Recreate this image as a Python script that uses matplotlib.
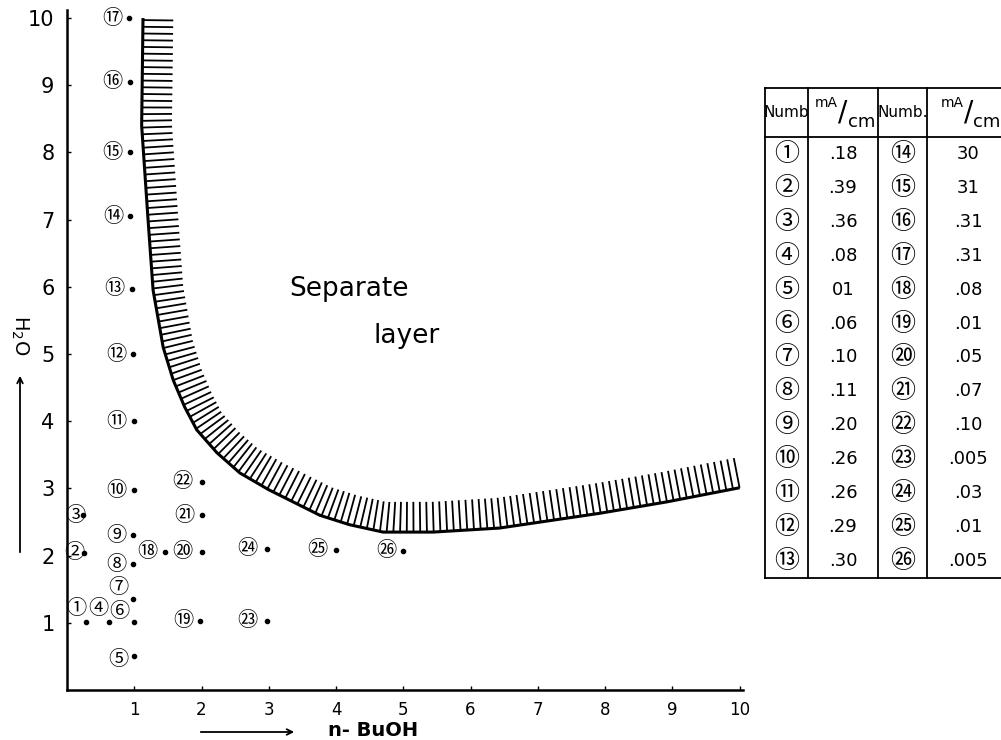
import numpy as np
import matplotlib
matplotlib.use('Agg')
import matplotlib.pyplot as plt
from matplotlib.collections import LineCollection

# sample points: n-BuOH (x) vs H2O (y)
sample_no = list(range(1, 27))
bu_oh = [0.28, 0.25, 0.24, 0.62, 1.00, 0.99, 0.98, 0.98, 0.98, 0.99,
         0.99, 0.98, 0.96, 0.94, 0.93, 0.93, 0.92, 1.45, 1.98, 2.00,
         2.00, 2.00, 2.98, 2.98, 4.00, 5.00]
h2o = [1.01, 2.04, 2.60, 1.01, 0.50, 1.01, 1.36, 1.87, 2.30, 2.97,
       4.00, 5.00, 5.97, 7.05, 8.00, 9.05, 10.0, 2.06, 1.03, 2.06,
       2.60, 3.10, 1.03, 2.10, 2.09, 2.07]
# current density (mA/cm), as written in the table
current = ['.18', '.39', '.36', '.08', '01', '.06', '.10', '.11', '.20', '.26',
           '.26', '.29', '.30', '30', '31', '.31', '.31', '.08', '.01', '.05',
           '.07', '.10', '.005', '.03', '.01', '.005']

# boundary of the separate layer region
edge_x = [1.13, 1.11, 1.20, 1.28, 1.43, 1.58, 1.75, 1.93, 2.23,
          2.57, 3.00, 3.46, 3.76, 4.20, 4.70, 5.44, 6.43, 7.92, 8.92, 10.0]
edge_y = [10.0, 8.40, 7.07, 5.95, 5.10, 4.61, 4.21, 3.87, 3.53,
          3.23, 2.98, 2.75, 2.60, 2.46, 2.35, 2.35, 2.41, 2.63, 2.80, 3.01]

xticks = list(range(1, 11))
yticks = list(range(1, 11))

# label placement next to each dot (pixels), default is left of dot
label_shift = {1: (-10, 14), 2: (-9, 0), 3: (-8, 0), 4: (-10, 14), 5: (-16, -3),
               6: (-14, 11), 7: (-15, 11), 20: (-19, 0), 22: (-19, 0),
               23: (-20, 0), 24: (-20, 0), 25: (-19, 0)}


def circled(n):
    if n <= 20:
        return chr(0x2460 + n - 1)
    return chr(0x3251 + n - 21)


CJK = ['Noto Sans CJK JP', 'DejaVu Sans']
W, H = 1001, 740

fig = plt.figure(figsize=(W / 100, H / 100), dpi=100)
ax = fig.add_axes([67 / W, 50 / H, 676 / W, 680 / H])
ax.set_xlim(0, 10.05)
ax.set_ylim(0, 10.12)
for s in ['top', 'right']:
    ax.spines[s].set_visible(False)
for s in ['left', 'bottom']:
    ax.spines[s].set_linewidth(1.8)
ax.set_xticks(xticks)
ax.set_yticks(yticks)
ax.tick_params(direction='in', length=3, width=1)
ax.tick_params(axis='x', labelsize=12, pad=8)
ax.tick_params(axis='y', labelsize=15, pad=9)

# dots + circled labels
ax.plot(bu_oh, h2o, 'o', color='black', markersize=3)
for n, x, y in zip(sample_no, bu_oh, h2o):
    dx, dy = label_shift.get(n, (-17, 0))
    ax.annotate(circled(n), (x, y), xytext=(dx, dy), textcoords='offset pixels',
                ha='center', va='center', fontsize=14.5, family=CJK)

# boundary line with hatching toward the separate-layer side
ex, ey = np.array(edge_x), np.array(edge_y)
ax.plot(ex, ey, color='black', lw=2.2, solid_capstyle='butt')
seg = np.hypot(np.diff(ex), np.diff(ey))
arc = np.concatenate([[0], np.cumsum(seg)])
ss = np.arange(0.03, arc[-1], 0.1)
hx = np.interp(ss, arc, ex)
hy = np.interp(ss, arc, ey)
k = np.ones(7) / 7
tx = np.convolve(np.gradient(hx), k, mode='same')
ty = np.convolve(np.gradient(hy), k, mode='same')
tx[:3], ty[:3] = np.gradient(hx)[:3], np.gradient(hy)[:3]
tx[-3:], ty[-3:] = np.gradient(hx)[-3:], np.gradient(hy)[-3:]
tn = np.hypot(tx, ty)
nx, ny = -ty / tn, tx / tn
hl = 0.45
hatch = [[(a, b), (a + hl * c, b + hl * d)] for a, b, c, d in zip(hx, hy, nx, ny)]
ax.add_collection(LineCollection(hatch, colors='black', linewidths=1.3))

ax.text(3.3, 5.97, 'Separate', fontsize=19, va='center', ha='left')
ax.text(4.55, 5.27, 'layer', fontsize=19, va='center', ha='left')

# axis names with arrows
ax.annotate('', xy=(297 / W, 1 - 732 / H), xytext=(198 / W, 1 - 732 / H),
            xycoords='figure fraction', arrowprops=dict(arrowstyle='->', lw=1.3))
fig.text(373 / W, 1 - 730 / H, 'n- BuOH', fontsize=14, fontweight='bold',
         ha='center', va='center')
ax.annotate('', xy=(20 / W, 1 - 373 / H), xytext=(20 / W, 1 - 555 / H),
            xycoords='figure fraction', arrowprops=dict(arrowstyle='->', lw=1.3))
fig.text(20 / W, 1 - 335 / H, 'H$_2$O', fontsize=14, rotation=270,
         ha='center', va='center')

# table of current densities
tax = fig.add_axes([765 / W, 1 - 578 / H, 245 / W, 490 / H])
tax.axis('off')
col_edges = [0, 43, 113, 162, 245]
head_h = 49
nrow = 13
tax.set_xlim(0, 245)
tax.set_ylim(490, 0)
row_h = (490 - head_h) / nrow
for xe in col_edges:
    tax.plot([xe, xe], [0, 490], color='black', lw=1.3, clip_on=False)
for ye in [0, head_h, 490]:
    tax.plot([0, 245], [ye, ye], color='black', lw=1.3, clip_on=False)
centers = [(col_edges[i] + col_edges[i + 1]) / 2 for i in range(4)]
for i in range(4):
    cx = centers[i]
    if i % 2 == 0:
        tax.text(cx, head_h / 2, ['Numb', 'Numb.'][i // 2], ha='center',
                 va='center', fontsize=11)
    else:
        tax.text(cx - 5, 15, 'mA', ha='right', va='center', fontsize=10)
        tax.text(cx, head_h / 2, '/', ha='center', va='center', fontsize=20)
        tax.text(cx + 5, 34, 'cm', ha='left', va='center', fontsize=13)
for r in range(nrow):
    yc = head_h + row_h * (r + 0.5)
    for c, n in enumerate([sample_no[r], sample_no[r + nrow]]):
        tax.text(centers[2 * c], yc, circled(n), ha='center', va='center',
                 fontsize=18, family=CJK)
        tax.text(centers[2 * c + 1], yc, current[n - 1], ha='center', va='center',
                 fontsize=13)

fig.savefig('out.png', dpi=100)
